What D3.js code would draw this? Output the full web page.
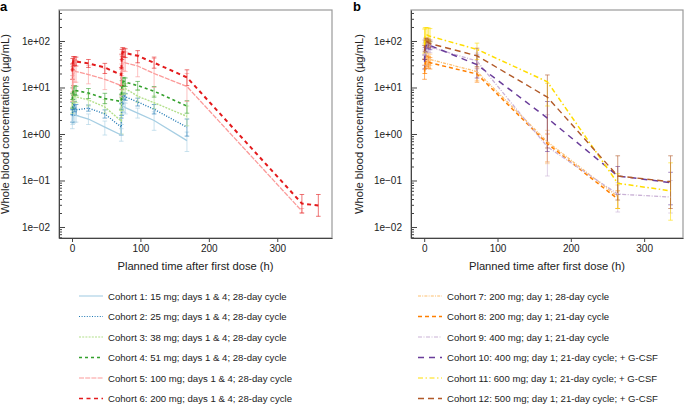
<!DOCTYPE html>
<html><head><meta charset="utf-8">
<script src="https://cdn.jsdelivr.net/npm/d3@7"></script>
<style>
body{margin:0;background:#fff}
svg{display:block}
text{font-family:"Liberation Sans",Arial,Helvetica,sans-serif;fill:#222}
</style>
</head><body>
<svg id="chart" width="685" height="404"></svg>
<script>
// ---------- DATA ----------
const xTicks = [0, 100, 200, 300];
const yTicks = [0.01, 0.1, 1, 10, 100];
const yTickLabels = ["1e\u221202", "1e\u221201", "1e+00", "1e+01", "1e+02"];
const xTitle = "Planned time after first dose (h)";
const yTitle = "Whole blood concentrations (\u00b5g/mL)";

// Panel a (times in h)
const timesA = [0.5, 1, 2, 4, 6, 24, 48, 72, 72.5, 73, 74, 76, 78, 96, 120, 168];
const timesA5 = [0.5, 1, 2, 4, 6, 24, 48, 72, 72.5, 73, 74, 76, 78, 96, 120, 168, 336];
const timesA6 = [0.5, 1, 2, 4, 6, 24, 48, 72, 72.5, 73, 74, 76, 78, 96, 120, 168, 336, 360];

const c1Mean = [1.8, 2.3, 2.6, 2.6, 2.5, 2.1, 1.4, 0.95, 2.5, 3.6, 4.0, 3.9, 3.7, 2.8, 1.95, 0.72];
const c1Lo   = [1.3, 1.6, 1.7, 1.8, 1.8, 1.6, 0.95, 0.7, 1.6, 2.6, 3.0, 2.9, 2.7, 2.2, 1.2, 0.42];
const c1Hi   = [2.6, 3.2, 3.8, 3.6, 3.4, 2.7, 1.9, 1.3, 3.6, 4.6, 5.0, 4.8, 4.6, 3.6, 3.0, 1.1];

const c2Mean = [2.5, 3.6, 4.4, 4.0, 3.3, 3.6, 2.7, 1.4, 3.5, 5.5, 6.5, 6.6, 6.3, 4.9, 3.4, 1.4];
const c2Lo   = [1.8, 2.6, 3.4, 3.0, 2.5, 3.1, 2.2, 0.95, 2.5, 4.4, 5.5, 5.6, 5.3, 4.0, 2.7, 0.9];
const c2Hi   = [3.4, 4.8, 5.6, 5.0, 4.3, 4.2, 3.3, 2.2, 4.6, 6.8, 7.6, 7.6, 7.4, 5.9, 4.3, 2.1];

const c3Mean = [4.0, 5.2, 6.2, 6.4, 6.3, 5.4, 3.8, 1.9, 5.0, 8.0, 9.5, 9.8, 9.5, 6.5, 4.7, 2.4];
const c3Lo   = [2.8, 3.8, 4.6, 4.8, 4.7, 4.0, 2.8, 1.0, 3.2, 5.5, 7.0, 7.4, 7.2, 4.8, 3.5, 1.5];
const c3Hi   = [5.5, 7.0, 8.0, 8.5, 8.2, 7.2, 5.5, 3.2, 7.0, 10.5, 12, 12.2, 12, 8.8, 6.6, 4.0];

const c4Mean = [5.5, 7.5, 8.8, 9.0, 8.6, 7.6, 5.8, 5.0, 8.5, 11.5, 13.0, 13.5, 13.0, 11.0, 8.3, 4.0];
const c4Lo   = [3.6, 5.5, 6.8, 7.0, 6.8, 5.8, 4.5, 3.4, 6.0, 9.0, 10.5, 11, 10.5, 8.8, 6.2, 2.8];
const c4Hi   = [7.5, 9.8, 11, 11, 10.6, 9.5, 7.5, 7.2, 11, 14, 16, 16.5, 16, 13.5, 10.5, 5.2];

const c5Mean = [9, 14, 19, 23, 22, 19, 15, 11, 18, 29, 34, 35, 34, 29, 20, 10.5, 0.022];
const c5Lo   = [5, 8, 11, 13, 13, 12, 9, 6.5, 9, 18, 22, 23, 22, 17, 10, 5, 0.02];
const c5Hi   = [18, 28, 34, 40, 38, 30, 26, 20, 32, 48, 58, 60, 58, 50, 42, 20, 0.025];

const c6Mean = [22, 33, 38, 37, 36, 33, 27, 18.5, 38, 52, 58, 57, 55, 48, 34, 16.5, 0.032, 0.029];
const c6Lo   = [15, 24, 29, 30, 29, 27, 20, 11, 25, 40, 46, 45, 44, 34, 26, 11, 0.02, 0.017];
const c6Hi   = [32, 42, 46, 46, 45, 40, 33, 27, 52, 66, 72, 70, 68, 62, 45, 24, 0.05, 0.05];

// Panel b
const timesB7 = [0.5, 1, 2, 4, 6, 8, 72, 168, 264];
const timesB = [0.5, 1, 2, 4, 6, 8, 72, 168, 264, 336];

const c7Mean = [30, 38, 42, 44, 42, 40, 22, 0.68, 0.045];
const c7Lo   = [20, 25, 30, 32, 31, 30, 14, 0.23, 0.025];
const c7Hi   = [42, 50, 55, 56, 55, 52, 32, 1.2, 0.08];

const c8Mean = [22, 30, 36, 38, 36, 34, 19.5, 0.62, 0.04];
const c8Lo   = [15, 20, 26, 28, 26, 25, 13, 0.25, 0.025];
const c8Hi   = [30, 40, 45, 48, 46, 44, 26, 1.0, 0.06];

const c9Mean = [45, 60, 72, 78, 76, 74, 37, 0.53, 0.051, 0.044];
const c9Lo   = [30, 42, 55, 60, 58, 56, 25, 0.125, 0.021, 0.02];
const c9Hi   = [65, 85, 95, 100, 98, 95, 55, 2.6, 0.09, 0.1];

const c10Mean = [36, 55, 75, 85, 83, 80, 31, 2.2, 0.125, 0.09];
const c10Lo   = [25, 40, 58, 70, 68, 65, 16, 0.42, 0.05, 0.03];
const c10Hi   = [50, 72, 95, 105, 100, 98, 50, 5, 0.2, 0.15];

const c11Mean = [80, 120, 135, 135, 130, 127, 66, 13.3, 0.087, 0.06];
const c11Lo   = [55, 90, 100, 105, 100, 95, 40, 4, 0.025, 0.014];
const c11Hi   = [180, 190, 195, 195, 190, 185, 90, 12.3, 0.14, 0.24];

const c12Mean = [60, 85, 95, 97, 92, 88, 48, 6.2, 0.125, 0.094];
const c12Lo   = [40, 60, 75, 78, 75, 72, 28, 0.5, 0.038, 0.025];
const c12Hi   = [80, 105, 115, 115, 110, 105, 70, 18.6, 0.34, 0.34];

const labelsA = [
  "Cohort 1: 15 mg; days 1 & 4; 28-day cycle",
  "Cohort 2: 25 mg; days 1 & 4; 28-day cycle",
  "Cohort 3: 38 mg; days 1 & 4; 28-day cycle",
  "Cohort 4: 51 mg; days 1 & 4; 28-day cycle",
  "Cohort 5: 100 mg; days 1 & 4; 28-day cycle",
  "Cohort 6: 200 mg; days 1 & 4; 28-day cycle"
];
const labelsB = [
  "Cohort 7: 200 mg; day 1; 28-day cycle",
  "Cohort 8: 200 mg; day 1; 21-day cycle",
  "Cohort 9: 400 mg; day 1; 21-day cycle",
  "Cohort 10: 400 mg; day 1; 21-day cycle; + G-CSF",
  "Cohort 11: 600 mg; day 1; 21-day cycle; + G-CSF",
  "Cohort 12: 500 mg; day 1; 21-day cycle; + G-CSF"
];

// ---------- STYLES ----------
const stylesA = [
  {color: "#a6cee3", dash: null, w: 1.3, lw: 1.1},
  {color: "#1f78b4", dash: "1,1.6", w: 1.4, lw: 1.1},
  {color: "#b2df8a", dash: "2,1.2", w: 1.4, lw: 1.1},
  {color: "#33a02c", dash: "3,3", w: 1.6, lw: 1.3},
  {color: "#fb9a99", dash: "5,1.2", w: 1.3, lw: 1.1},
  {color: "#e31a1c", dash: "4,3.5", w: 2, lw: 1.7}
];
const stylesB = [
  {color: "#fdbf6f", dash: "3,1.2,1,1.2", w: 1.3, lw: 1.0},
  {color: "#ff7f00", dash: "4,3", w: 1.5, lw: 1.3},
  {color: "#cab2d6", dash: "4,1.5,1,1.5", w: 1.3, lw: 1.1},
  {color: "#6a3d9a", dash: "6,5", w: 1.5, lw: 1.4},
  {color: "#ffdd00", dash: "5,2.5,1.5,2.5", w: 1.5, lw: 1.2},
  {color: "#b15928", dash: "6,4", w: 1.4, lw: 1.3}
];

const seriesA = [
  {t: timesA, m: c1Mean, lo: c1Lo, hi: c1Hi},
  {t: timesA, m: c2Mean, lo: c2Lo, hi: c2Hi},
  {t: timesA, m: c3Mean, lo: c3Lo, hi: c3Hi},
  {t: timesA, m: c4Mean, lo: c4Lo, hi: c4Hi},
  {t: timesA5, m: c5Mean, lo: c5Lo, hi: c5Hi},
  {t: timesA6, m: c6Mean, lo: c6Lo, hi: c6Hi}
];
const seriesB = [
  {t: timesB7, m: c7Mean, lo: c7Lo, hi: c7Hi},
  {t: timesB7, m: c8Mean, lo: c8Lo, hi: c8Hi},
  {t: timesB, m: c9Mean, lo: c9Lo, hi: c9Hi},
  {t: timesB, m: c10Mean, lo: c10Lo, hi: c10Hi},
  {t: timesB, m: c11Mean, lo: c11Lo, hi: c11Hi},
  {t: timesB, m: c12Mean, lo: c12Lo, hi: c12Hi}
];

// ---------- DRAW ----------
const svg = d3.select("#chart");
const plotTop = 10, plotBottom = 238;

function minorTicks(domain) {
  const out = [];
  for (let e = -3; e <= 2; e++) for (let k = 2; k <= 9; k++) {
    const v = k * Math.pow(10, e);
    if (v >= domain[0] && v <= domain[1]) out.push(v);
  }
  return out;
}

function panel(cfg) {
  const x = d3.scaleLinear().domain(cfg.xDomain).range([cfg.left, cfg.right]);
  const y = d3.scaleLog().domain([0.0058, 464]).range([plotBottom, plotTop]);
  const g = svg.append("g");

  g.append("rect").attr("x", cfg.left).attr("y", plotTop)
    .attr("width", cfg.right - cfg.left).attr("height", plotBottom - plotTop)
    .attr("fill", "none").attr("stroke", "#9a9a9a").attr("stroke-width", 1.2);

  cfg.series.forEach((s, i) => {
    const st = cfg.styles[i];
    const eg = g.append("g").attr("stroke", st.color).attr("stroke-opacity", 0.6).attr("stroke-width", 1);
    s.t.forEach((t, j) => {
      const xx = x(t);
      eg.append("line").attr("x1", xx).attr("x2", xx).attr("y1", y(s.lo[j])).attr("y2", y(s.hi[j]));
      eg.append("line").attr("x1", xx - 2.3).attr("x2", xx + 2.3).attr("y1", y(s.lo[j])).attr("y2", y(s.lo[j]));
      eg.append("line").attr("x1", xx - 2.3).attr("x2", xx + 2.3).attr("y1", y(s.hi[j])).attr("y2", y(s.hi[j]));
    });
  });

  cfg.series.forEach((s, i) => {
    const st = cfg.styles[i];
    const pts = s.t.map((t, j) => [t, s.m[j]]);
    const line = d3.line().x(d => x(d[0])).y(d => y(d[1]));
    g.append("path").attr("d", line(pts)).attr("fill", "none")
      .attr("stroke", st.color).attr("stroke-width", st.w)
      .attr("stroke-dasharray", st.dash);
  });

  const ya = d3.axisLeft(y).tickValues(yTicks).tickSizeInner(-6).tickSizeOuter(0).tickPadding(9)
    .tickFormat((d, i) => yTickLabels[i]);
  const yg = g.append("g").attr("transform", `translate(${cfg.left},0)`).call(ya);
  yg.select(".domain").attr("stroke", "#444");
  yg.selectAll(".tick line").attr("stroke", "#444");
  yg.selectAll("text").attr("font-size", 10).attr("fill", "#222");
  const ym = d3.axisLeft(y).tickValues(minorTicks(y.domain())).tickSizeInner(-3).tickSizeOuter(0).tickFormat("");
  const ymg = g.append("g").attr("transform", `translate(${cfg.left},0)`).call(ym);
  ymg.select(".domain").remove();
  ymg.selectAll(".tick line").attr("stroke", "#444");

  const xa = d3.axisBottom(x).tickValues(xTicks).tickSizeInner(4).tickSizeOuter(0).tickPadding(3);
  const xg = g.append("g").attr("transform", `translate(0,${plotBottom})`).call(xa);
  xg.select(".domain").attr("stroke", "#444");
  xg.selectAll(".tick line").attr("stroke", "#444");
  xg.selectAll("text").attr("font-size", 10).attr("fill", "#222");

  g.append("text").attr("x", (cfg.left + cfg.right) / 2).attr("y", 270)
    .attr("text-anchor", "middle").attr("font-size", 11.2).text(xTitle);
  g.append("text").attr("transform", `translate(${cfg.yTitleX},124) rotate(-90)`)
    .attr("text-anchor", "middle").attr("font-size", 11.2).text(yTitle);
  g.append("text").attr("x", cfg.letterX).attr("y", 11).attr("font-size", 13)
    .attr("font-weight", "bold").style("fill", "#000").text(cfg.letter);

  const rowY = d3.scaleLinear().domain([0, 5]).range([296, 398.5]);
  cfg.labels.forEach((lab, i) => {
    const st = cfg.styles[i];
    const yy = rowY(i);
    g.append("line").attr("x1", cfg.legX).attr("x2", cfg.legX + 24).attr("y1", yy).attr("y2", yy)
      .attr("stroke", st.color).attr("stroke-width", st.lw).attr("stroke-dasharray", st.dash);
    g.append("text").attr("x", cfg.legX + 29).attr("y", yy + 3.5).attr("font-size", 9.6).text(lab);
  });
}

panel({left: 59, right: 332, xDomain: [-19, 380], series: seriesA, styles: stylesA,
  labels: labelsA, legX: 79, yTitleX: 9, letter: "a", letterX: 0});
panel({left: 411, right: 683, xDomain: [-18, 353], series: seriesB, styles: stylesB,
  labels: labelsB, legX: 418, yTitleX: 363, letter: "b", letterX: 353});
</script>
</body></html>
